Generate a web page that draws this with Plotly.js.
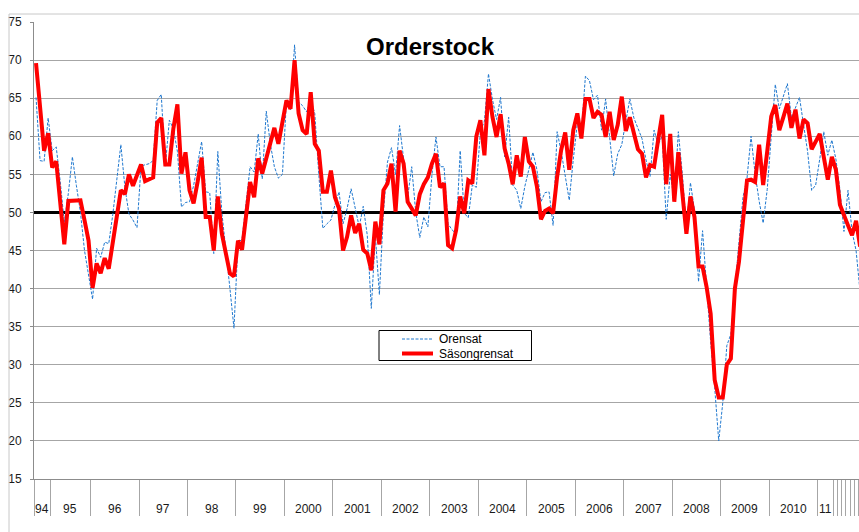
<!DOCTYPE html>
<html><head><meta charset="utf-8">
<script src="https://cdn.plot.ly/plotly-3.0.1.min.js"></script>
<style>html,body{margin:0;padding:0;background:#fff}#chart{width:859px;height:532px}</style>
</head><body><div id="chart"></div>
<script>
const chartTitle = 'Orderstock';
const seriesNames = ['Orensat', 'Säsongrensat'];
const groupLabels = ['94','95','96','97','98','99','2000','2001','2002','2003','2004','2005','2006','2007','2008','2009','2010','11','','','','','','',''];
const groupCounts = [4,10,12,12,12,12,12,12,12,12,12,12,12,12,12,12,12,4,1,1,1,1,1,1,1];
const refLevel = 50;

const orensat = [
65.1,56.8,56.7,62.4,58.1,58.6,54.0,48.7,52.5,57.3,53.5,50.0,45.0,42.0,38.6,45.3,44.1,46.1,45.9,49.7,
54.3,58.9,53.3,49.8,49.0,48.0,56.1,56.3,56.4,56.8,64.7,65.5,56.0,62.1,61.0,58.0,50.7,51.3,51.4,53.5,
56.5,59.3,52.7,52.6,44.6,58.0,50.0,44.5,40.0,34.8,46.0,46.5,51.0,56.0,55.3,60.3,54.4,63.3,59.0,56.0,
54.5,55.0,64.7,63.5,72.0,64.5,64.0,63.2,64.8,63.0,55.0,47.9,48.5,49.0,51.0,52.7,48.5,50.5,53.1,50.5,
48.1,50.8,47.0,37.4,47.0,39.2,50.0,56.6,58.5,55.0,61.4,57.0,52.0,56.0,50.0,46.7,49.4,48.1,54.9,59.9,
56.0,56.0,48.5,47.7,47.2,58.1,49.9,49.3,53.6,53.3,60.6,62.0,68.2,64.8,62.2,65.1,57.3,62.5,53.6,52.9,
50.5,53.4,55.5,57.9,55.6,51.4,52.6,52.7,48.3,60.6,58.0,55.0,51.6,57.0,61.7,60.6,67.9,67.3,64.8,65.4,
60.8,64.9,60.0,54.8,57.7,58.9,62.0,64.9,62.4,61.0,59.7,56.9,54.7,60.8,58.9,60.0,49.1,55.0,51.6,60.6,
55.0,48.0,53.9,50.3,40.9,47.6,40.0,33.0,27.0,20.0,25.0,32.5,34.0,40.0,46.5,52.0,54.5,60.0,55.1,51.5,
48.6,53.0,60.0,66.8,63.6,65.2,66.9,62.4,63.8,65.1,61.5,58.0,52.9,53.6,57.0,60.6,57.5,59.5,57.0,53.0,
47.5,52.9,47.5,45.0,39.5];

const sasongrensat = [
69.6,63.5,58.1,60.4,55.9,56.7,51.0,45.8,51.5,51.5,51.5,51.6,49.0,46.3,40.1,43.3,42.0,44.0,42.6,46.0,
49.5,52.9,52.4,55.0,53.5,55.0,56.3,54.1,54.3,54.6,61.8,62.4,56.3,56.3,61.0,64.2,55.1,57.9,52.9,51.2,
54.0,57.2,49.4,49.4,45.0,52.1,47.2,44.6,42.0,41.6,46.3,45.1,49.5,54.0,52.0,57.1,55.1,57.1,59.1,61.1,
59.0,62.0,64.7,63.6,70.0,63.0,60.8,60.3,65.8,59.0,58.1,52.7,52.7,55.5,52.0,50.5,45.0,46.8,49.6,47.3,
48.5,45.1,44.6,42.4,48.8,45.8,52.9,53.8,56.4,50.1,58.1,56.4,51.4,50.5,49.6,52.4,53.7,54.6,56.4,57.7,
53.3,53.8,45.7,45.3,47.7,52.1,49.9,54.2,53.8,60.0,62.1,57.5,66.2,62.5,59.9,62.9,58.4,56.4,53.7,57.5,
54.7,59.9,56.7,56.0,53.4,49.1,50.2,50.5,49.9,54.7,58.2,60.5,55.6,60.8,63.0,59.7,64.9,64.9,62.4,63.2,
62.8,59.9,63.2,59.5,61.5,65.2,60.7,62.5,60.2,58.3,57.7,54.6,56.2,56.0,59.5,62.8,53.7,60.3,51.4,57.9,
52.5,47.2,52.1,49.4,42.9,42.9,40.2,36.7,28.0,25.7,25.7,30.0,30.8,40.0,43.5,49.5,54.2,54.3,54.0,58.9,
53.6,58.0,62.6,64.1,60.8,62.5,64.3,61.1,63.5,59.7,62.2,61.7,58.3,59.3,60.3,57.3,54.3,57.3,55.6,51.0,
49.5,48.3,47.0,48.9,45.5];

const n = orensat.length;
const idx = Array.from({length: n}, (_, i) => i);
const bounds = [-0.5];
const mids = [];
let acc = 0;
groupCounts.forEach(k => { mids.push(acc + k / 2 - 0.5); acc += k; bounds.push(acc - 0.5); });

const FONT = 'Liberation Sans, Arial, sans-serif';
const blue = '#1f78cf';
const red = '#ff0000';

const W = 859, H = 532;
const mL = 34, mR = 0, mT = 22, mB = 53;
const pw = W - mL - mR, ph = H - mT - mB;
const xMax = -0.5 + pw / 4.0397;
const px2x = p => (p - mL) / pw;
const py2y = p => (H - mB - p) / ph;

const traces = [
  {x: [bounds[0], bounds[bounds.length - 1] + 2], y: [refLevel, refLevel], type: 'scatter', mode: 'lines',
   line: {color: '#000', width: 3}, showlegend: false, hoverinfo: 'skip'},
  {x: idx, y: orensat, name: seriesNames[0], type: 'scatter', mode: 'lines',
   line: {color: blue, width: 1, dash: '3px,1.5px'}, showlegend: false, hoverinfo: 'skip'},
  {x: idx, y: sasongrensat, name: seriesNames[1], type: 'scatter', mode: 'lines',
   line: {color: red, width: 4}, showlegend: false, hoverinfo: 'skip'}
];

const annotations = groupLabels.map((lab, j) => ({
  x: mids[j], xref: 'x', y: py2y(509), yref: 'paper', text: lab, showarrow: false,
  xanchor: 'center', yanchor: 'middle', font: {family: FONT, size: 12, color: '#1a1a1a'}
})).filter(a => a.text !== '');

annotations.push(
  {x: px2x(437), xref: 'paper', y: py2y(339), yref: 'paper', text: seriesNames[0], showarrow: false,
   xanchor: 'left', yanchor: 'middle', font: {family: FONT, size: 12, color: '#000'}},
  {x: px2x(437), xref: 'paper', y: py2y(354), yref: 'paper', text: seriesNames[1], showarrow: false,
   xanchor: 'left', yanchor: 'middle', font: {family: FONT, size: 12, color: '#000'}}
);

const shapes = [
  {type: 'line', xref: 'paper', yref: 'paper', x0: px2x(9), x1: px2x(9), y0: py2y(14), y1: py2y(540),
   line: {color: '#c8c8c8', width: 1}},
  {type: 'line', xref: 'paper', yref: 'paper', x0: px2x(9), x1: px2x(870), y0: py2y(14), y1: py2y(14),
   line: {color: '#c8c8c8', width: 1}},
  {type: 'rect', xref: 'paper', yref: 'paper', x0: px2x(379), x1: px2x(531.5), y0: py2y(360.5), y1: py2y(330.5),
   line: {color: '#000', width: 1}, fillcolor: '#fff'},
  {type: 'line', xref: 'paper', yref: 'paper', x0: px2x(402), x1: px2x(433), y0: py2y(339), y1: py2y(339),
   line: {color: blue, width: 1, dash: '3px,1.5px'}},
  {type: 'line', xref: 'paper', yref: 'paper', x0: px2x(402), x1: px2x(433), y0: py2y(353.5), y1: py2y(353.5),
   line: {color: red, width: 4}}
];

const layout = {
  width: W, height: H,
  margin: {l: mL, r: mR, t: mT, b: mB, pad: 0},
  paper_bgcolor: '#fff', plot_bgcolor: '#fff',
  showlegend: false,
  title: {text: '<b>' + chartTitle + '</b>', font: {family: FONT, size: 24, color: '#000'},
          xref: 'container', yref: 'container', x: 430 / W, y: 1 - 47 / H, xanchor: 'center', yanchor: 'middle'},
  xaxis: {range: [-0.5, xMax], showgrid: false, zeroline: false,
          showline: true, linecolor: '#8c8c8c', linewidth: 1,
          tickmode: 'array', tickvals: bounds, ticktext: bounds.map(() => ''),
          ticks: 'outside', ticklen: 36, tickcolor: '#a6a6a6', tickwidth: 1, showticklabels: false},
  yaxis: {range: [15, 75], tickmode: 'linear', tick0: 15, dtick: 5,
          showgrid: true, gridcolor: '#a6a6a6', gridwidth: 1, zeroline: false,
          showline: true, linecolor: '#8c8c8c', linewidth: 1,
          ticks: 'outside', ticklen: 3, tickcolor: '#8c8c8c', ticklabelstandoff: 6,
          tickfont: {family: FONT, size: 12, color: '#1a1a1a'}},
  annotations: annotations,
  shapes: shapes
};

Plotly.newPlot('chart', traces, layout, {staticPlot: true, displayModeBar: false});
</script>
</body></html>
